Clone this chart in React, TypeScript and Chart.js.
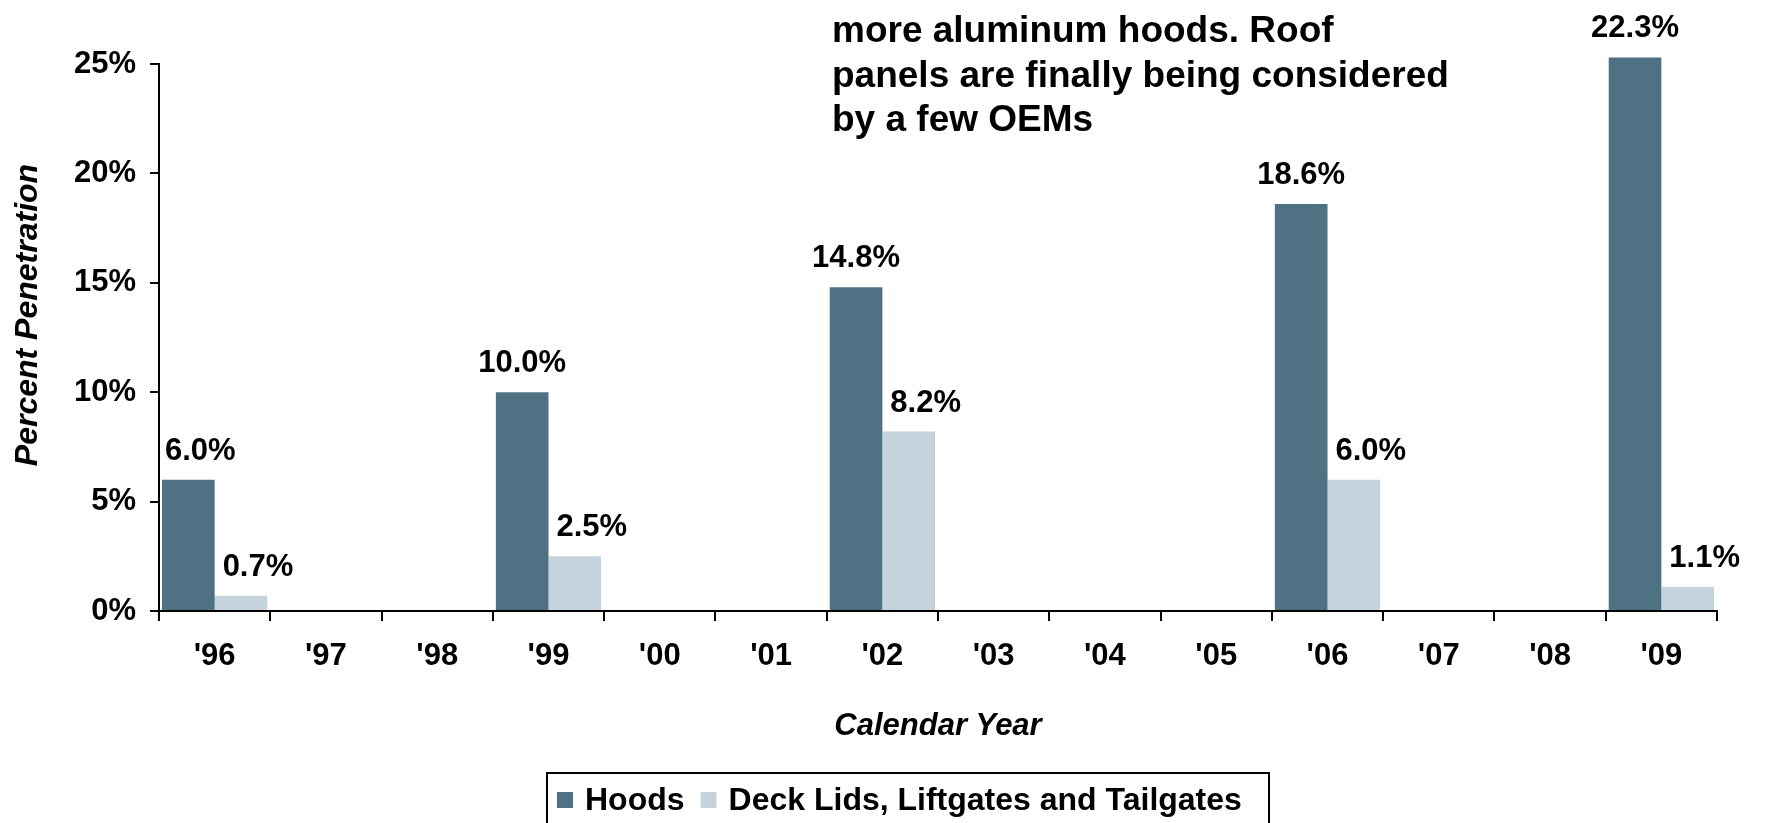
import React, { useEffect, useRef } from "react";
import { Chart, registerables } from "chart.js";

Chart.register(...registerables);

const categories = ["'96", "'97", "'98", "'99", "'00", "'01", "'02", "'03", "'04", "'05", "'06", "'07", "'08", "'09"];
const seriesNames = ["Hoods", "Deck Lids, Liftgates and Tailgates"];
const hoodsValues = [6.0, null, null, 10.0, null, null, 14.8, null, null, null, 18.6, null, null, 25.3];
const deckValues = [0.7, null, null, 2.5, null, null, 8.2, null, null, null, 6.0, null, null, 1.1];
const hoodsLabels = ["6.0%", "", "", "10.0%", "", "", "14.8%", "", "", "", "18.6%", "", "", "22.3%"];
const deckLabels = ["0.7%", "", "", "2.5%", "", "", "8.2%", "", "", "", "6.0%", "", "", "1.1%"];
const yTicks = [0, 5, 10, 15, 20, 25];
const annotationLines = ["more aluminum hoods. Roof", "panels are finally being considered", "by a few OEMs"];
const xTitle = "Calendar Year";
const yTitle = "Percent Penetration";

const FONT = "'Liberation Sans', Arial, Helvetica, sans-serif";
const HOODS_COLOR = "#4F7184";
const DECK_COLOR = "#C5D3DD";

const overlayPlugin = {
  id: "overlay",
  afterDatasetsDraw(chart: any) {
    const ctx = chart.ctx as CanvasRenderingContext2D;
    const area = chart.chartArea;
    ctx.save();
    ctx.fillStyle = "#000";

    // data labels
    ctx.font = `bold 31px ${FONT}`;
    ctx.textAlign = "center";
    ctx.textBaseline = "alphabetic";
    const labelSets = [hoodsLabels, deckLabels];
    const offsets = [0, 17];
    chart.data.datasets.forEach((ds: any, di: number) => {
      const meta = chart.getDatasetMeta(di);
      meta.data.forEach((el: any, i: number) => {
        const txt = labelSets[di][i];
        if (!txt || ds.data[i] == null) return;
        const w = ctx.measureText(txt).width;
        let cx = el.x + offsets[di];
        const minLeft = area.left + 6;
        if (cx - w / 2 < minLeft) cx = minLeft + w / 2;
        ctx.fillText(txt, cx, el.y - 20);
      });
    });

    // annotation text
    ctx.font = `bold 37px ${FONT}`;
    ctx.textAlign = "left";
    annotationLines.forEach((line, i) => {
      ctx.fillText(line, 832, 42 + i * 44.5);
    });

    // y axis title
    ctx.save();
    ctx.translate(37, 315);
    ctx.rotate(-Math.PI / 2);
    ctx.font = `italic bold 32px ${FONT}`;
    ctx.textAlign = "center";
    ctx.fillText(yTitle, 0, 0);
    ctx.restore();

    // legend
    const lx = 547, ly = 773, lr = 1269;
    ctx.strokeStyle = "#000";
    ctx.lineWidth = 2;
    ctx.strokeRect(lx, ly, lr - lx, 80);
    ctx.font = `bold 32px ${FONT}`;
    ctx.textAlign = "left";
    let x = lx + 10;
    const colors = [HOODS_COLOR, DECK_COLOR];
    seriesNames.forEach((name, i) => {
      ctx.fillStyle = colors[i];
      ctx.fillRect(x, 792, 16, 16);
      x += 16 + 12;
      ctx.fillStyle = "#000";
      ctx.fillText(name, x, 810);
      x += ctx.measureText(name).width + 16;
    });
    ctx.restore();
  },
};

export default function App() {
  const canvasRef = useRef<HTMLCanvasElement | null>(null);

  useEffect(() => {
    if (!canvasRef.current) return;
    const chart = new Chart(canvasRef.current, {
      type: "bar",
      data: {
        labels: categories,
        datasets: [
          { label: seriesNames[0], data: hoodsValues, backgroundColor: HOODS_COLOR, borderWidth: 0, clip: false } as any,
          { label: seriesNames[1], data: deckValues, backgroundColor: DECK_COLOR, borderWidth: 0, clip: false } as any,
        ],
      },
      options: {
        animation: false,
        responsive: false,
        devicePixelRatio: 1,
        categoryPercentage: 0.946,
        barPercentage: 1.0,
        layout: { padding: { top: 64, right: 48, bottom: 0, left: 0 } },
        plugins: {
          legend: { display: false },
          tooltip: { enabled: false },
        },
        scales: {
          x: {
            grid: { display: true, drawOnChartArea: false, color: "#000", lineWidth: 2, tickLength: 10, offset: true },
            border: { display: true, color: "#000", width: 2 },
            ticks: { color: "#000", font: { family: FONT, size: 31, weight: "bold" }, padding: 17, maxRotation: 0, autoSkip: false },
            title: {
              display: true,
              text: xTitle,
              color: "#000",
              font: { family: FONT, size: 31, weight: "bold", style: "italic" },
              padding: { top: 0, bottom: 78 },
            },
            afterFit: (scale: any) => {
              scale.height = 212;
            },
          },
          y: {
            min: 0,
            max: 25,
            grid: { display: true, drawOnChartArea: false, color: "#000", lineWidth: 2, tickLength: 9 },
            border: { display: true, color: "#000", width: 2 },
            ticks: {
              color: "#000",
              font: { family: FONT, size: 31, weight: "bold" },
              padding: 14,
              callback: (v: any) => `${v}%`,
            },
            afterBuildTicks: (scale: any) => {
              scale.ticks = yTicks.map((v) => ({ value: v }));
            },
            afterFit: (scale: any) => {
              scale.width = 159;
            },
          },
        },
      } as any,
      plugins: [overlayPlugin],
    });
    return () => chart.destroy();
  }, []);

  return (
    <div style={{ position: "absolute", left: 0, top: 0, width: 1765, height: 823, background: "#fff" }}>
      <canvas ref={canvasRef} width={1765} height={823} style={{ display: "block" }} />
    </div>
  );
}
